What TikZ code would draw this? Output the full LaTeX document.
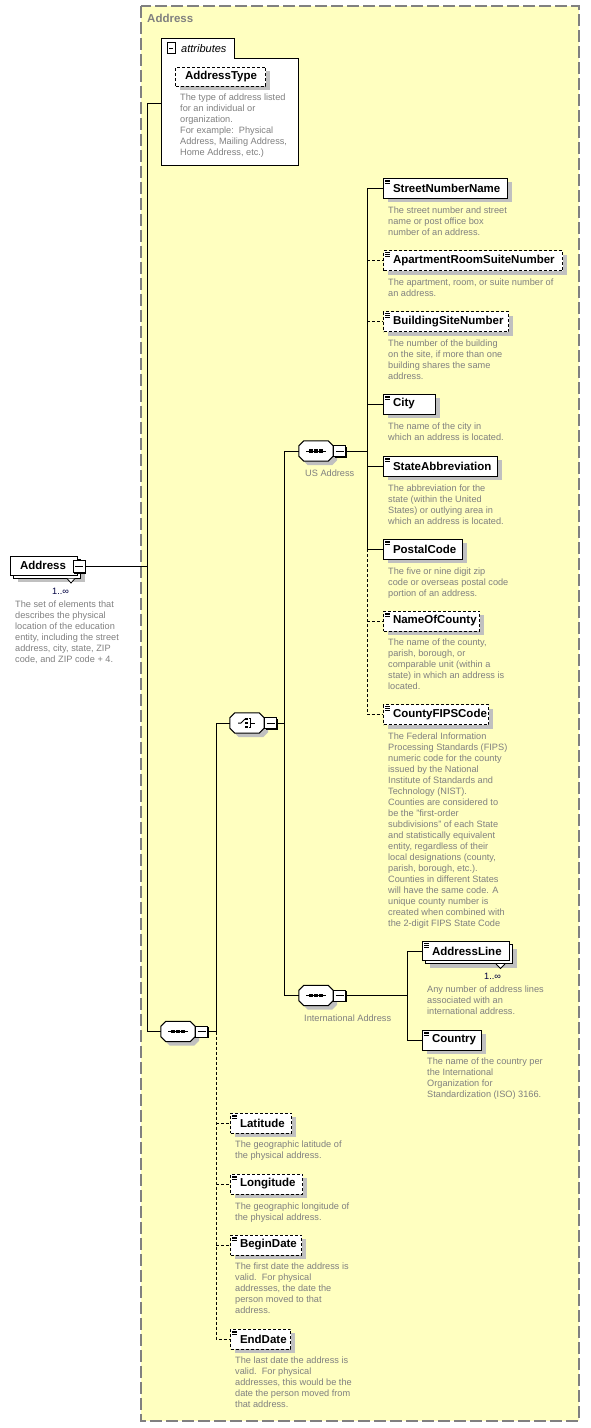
\documentclass[tikz,border=0pt]{standalone}
\usepackage{fontspec}
\setmainfont{Liberation Sans}
\usetikzlibrary{shadows}
\definecolor{yellowbg}{RGB}{255,255,192}
\definecolor{framegray}{RGB}{128,128,128}
\definecolor{shgray}{RGB}{192,192,192}
\definecolor{descgray}{RGB}{128,128,128}
\definecolor{multcol}{RGB}{0,0,64}
\newcommand\el[2]{\makebox[#1pt][l]{\hspace{9.5pt}#2}}
\newcommand\compshape[1]{%
  \path[fill=shgray] ([shift={(9,4)}]#1.north west) -- ([shift={(-1,4)}]#1.north east) -- ([shift={(4,9)}]#1.north east) -- ([shift={(4,-1)}]#1.south east) -- ([shift={(-1,4)}]#1.south east) -- ([shift={(9,4)}]#1.south west) -- ([shift={(4,-1)}]#1.south west) -- ([shift={(4,9)}]#1.north west) -- cycle;
  \draw[fill=white, line width=1pt] ([shift={(5,0)}]#1.north west) -- ([shift={(-5,0)}]#1.north east) -- ([shift={(0,5)}]#1.north east) -- ([shift={(0,-5)}]#1.south east) -- ([shift={(-5,0)}]#1.south east) -- ([shift={(5,0)}]#1.south west) -- ([shift={(0,-5)}]#1.south west) -- ([shift={(0,5)}]#1.north west) -- cycle;}
\newcommand\seqicon[1]{%
  \draw[line width=1pt] ([xshift=-10pt]#1.center) -- ([xshift=10pt]#1.center);
  \foreach \d in {-5,0,5} \fill ([xshift=\d pt]#1.center) +(-1.8,-1.8) rectangle +(1.8,1.8);}
\newcommand\choiceicon[1]{%
  \draw[line width=1pt] ([shift={(-9,0)}]#1.center) -- ([shift={(-6,0)}]#1.center) -- ([shift={(-2,-4)}]#1.center);
  \foreach \d in {-4,0,4} \fill ([shift={(-0.5,\d)}]#1.center) +(-1.4,-1.4) rectangle +(1.4,1.4);
  \draw[line width=1pt] ([shift={(1.5,-4.5)}]#1.center) -- ([shift={(3.5,-4.5)}]#1.center) -- ([shift={(3.5,4.5)}]#1.center) -- ([shift={(1.5,4.5)}]#1.center);
  \draw[line width=1pt] ([shift={(3.5,0)}]#1.center) -- ([shift={(8,0)}]#1.center);}
\tikzset{
  conn/.style={line width=1pt},
  dconn/.style={line width=1pt, dash pattern=on 3pt off 2pt},
  boxbase/.style={draw, line width=1pt, fill=white, minimum height=20pt, inner sep=0pt,
    font=\fontsize{11.5}{13}\selectfont\bfseries},
  shadowed/.style={general shadow={fill=shgray, shadow xshift=4pt, shadow yshift=-4pt}},
  icon/.style={path picture={\foreach \k in {2,3.8,5.6} \draw[line width=0.8pt, solid, black] ([shift={(1.5,\k)}]path picture bounding box.north west) -- ++(5,0);}},
  elem/.style={boxbase, shadowed, icon},
  optelem/.style={elem, dash pattern=on 3pt off 2pt},
  desc/.style={anchor=north west, inner sep=0pt, align=left, text=descgray,
    font=\fontsize{9.2}{11}\selectfont, execute at begin node=\strut},
  lbl/.style={anchor=base west, inner sep=0pt, text=descgray, font=\fontsize{9.2}{11}\selectfont},
  mult/.style={anchor=base west, inner sep=0pt, text=multcol, font=\fontsize{9.2}{11}\selectfont},
  comp/.style={minimum width=34pt, minimum height=20pt, inner sep=0pt},
  minusbox/.style={draw, line width=1pt, fill=white, minimum width=12pt, minimum height=11pt, inner sep=0pt,
    path picture={\draw[line width=1pt] ([xshift=2pt]path picture bounding box.west) -- ([xshift=-2pt]path picture bounding box.east);}},
  minus3d/.style={minusbox, general shadow={fill=black, shadow xshift=1pt, shadow yshift=-1pt}},
  chevron/.style={draw=black, line width=0.8pt, fill=white}
}
\begin{document}
\begin{tikzpicture}[x=1pt,y=-1pt]
\useasboundingbox (0,0) rectangle (590,1428);
% frame
\draw[framegray, line width=1.2pt, dash pattern=on 12pt off 4pt, fill=yellowbg] (141,6) rectangle (579,1421);
\node[anchor=base west, inner sep=0pt, text=framegray, font=\fontsize{11.5}{13}\selectfont\bfseries] (title) at (147,22) {Address};

% root element
\node[boxbase, shadowed, minimum height=19pt, anchor=west] (addrbk) at (13,568.5) {\makebox[67pt]{}};
\node[boxbase, minimum height=19pt, anchor=west] (addr) at (10,565.5) {\el{67}{Address}};
\node[minus3d, minimum height=12pt] (addrm) at (79,566.5) {};
\draw[chevron] ([shift={(-14,0)}]addrbk.south east) -- ([shift={(-10,4.5)}]addrbk.south east) -- ([shift={(-6,0)}]addrbk.south east);
\node[mult] (addrmult) at (52,594.5) {1..∞};
\node[desc] (addrdesc) at (15,600.3) {The set of elements that\\describes the physical\\location of the education\\entity, including the street\\address, city, state, ZIP\\code, and ZIP code + 4.};

% attributes
\draw[line width=1pt, fill=white] (161,165) -- (161,38) -- (234,38) -- (234,58) -- (298,58) -- (298,165) -- cycle;
\node[inner sep=0pt, minimum width=137pt, minimum height=107pt, anchor=north west] (attrbody) at (161,58) {};
\node[minusbox, minimum width=8pt, minimum height=11pt] (attrm) at (171,48) {};
\node[anchor=base west, inner sep=0pt, font=\fontsize{11}{13}\selectfont\itshape] (attrlbl) at (181,52) {attributes};
\node[boxbase, shadowed, dash pattern=on 3pt off 2pt, minimum height=19pt, anchor=west] (atype) at (175,76.5) {\el{90}{AddressType}};
\node[desc] (atypedesc) at (180,93.8) {The type of address listed\\for an individual or\\organization.\\For example:\ \ Physical\\Address, Mailing Address,\\Home Address, etc.)};

% main sequence
\node[comp] (seq) at (178,1031.5) {};
\compshape{seq}\seqicon{seq}
\node[minus3d, anchor=west] (seqm) at (seq.east) {};

% choice
\node[comp] (choice) at (247,723) {};
\compshape{choice}\choiceicon{choice}
\node[minus3d, anchor=west] (chm) at (choice.east) {};

% US address sequence
\node[comp] (usseq) at (316,451) {};
\compshape{usseq}\seqicon{usseq}
\node[minus3d, anchor=west] (usm) at (usseq.east) {};
\node[lbl] (uslbl) at (305,476.5) {US Address};

% International address sequence
\node[comp] (intseq) at (316,995.5) {};
\compshape{intseq}\seqicon{intseq}
\node[minus3d, anchor=west] (intm) at (intseq.east) {};
\node[lbl] (intlbl) at (304,1021.5) {International Address};

% US children
\node[elem, anchor=west] (snn) at (383,188) {\el{124}{StreetNumberName}};
\node[desc] at (388,206.3) {The street number and street\\name or post office box\\number of an address.};
\node[optelem, anchor=west] (apt) at (383,260.5) {\el{179}{ApartmentRoomSuiteNumber}};
\node[desc] at (388,278.3) {The apartment, room, or suite number of\\an address.};
\node[optelem, anchor=west] (bldg) at (383,321.5) {\el{125}{BuildingSiteNumber}};
\node[desc] at (388,339.3) {The number of the building\\on the site, if more than one\\building shares the same\\address.};
\node[elem, anchor=west] (city) at (383,404) {\el{52}{City}};
\node[desc] at (388,422.3) {The name of the city in\\which an address is located.};
\node[elem, anchor=west] (state) at (383,466) {\el{114}{StateAbbreviation}};
\node[desc] at (388,484.3) {The abbreviation for the\\state (within the United\\States) or outlying area in\\which an address is located.};
\node[elem, anchor=west] (pc) at (383,549) {\el{79}{PostalCode}};
\node[desc] at (388,567.3) {The five or nine digit zip\\code or overseas postal code\\portion of an address.};
\node[optelem, anchor=west] (noc) at (383,621) {\el{96}{NameOfCounty}};
\node[desc] at (388,638.3) {The name of the county,\\parish, borough, or\\comparable unit (within a\\state) in which an address is\\located.};
\node[optelem, anchor=west] (fips) at (383,714.5) {\el{105}{CountyFIPSCode}};
\node[desc] at (388,732.3) {The Federal Information\\Processing Standards (FIPS)\\numeric code for the county\\issued by the National\\Institute of Standards and\\Technology (NIST).\\Counties are considered to\\be the "first-order\\subdivisions" of each State\\and statistically equivalent\\entity, regardless of their\\local designations (county,\\parish, borough, etc.).\\Counties in different States\\will have the same code. A\\unique county number is\\created when combined with\\the 2-digit FIPS State Code};

% International children
\node[boxbase, shadowed, icon, minimum height=19pt, anchor=west] (albk) at (425,954) {\makebox[87pt]{}};
\node[boxbase, icon, minimum height=19pt, anchor=west] (al) at (422,951) {\el{87}{AddressLine}};
\draw[chevron] ([shift={(-17,0)}]albk.south east) -- ([shift={(-12.5,4.5)}]albk.south east) -- ([shift={(-8,0)}]albk.south east);
\node[mult] (almult) at (484,979) {1..∞};
\node[desc] at (427,985.3) {Any number of address lines\\associated with an\\international address.};
\node[elem, anchor=west] (country) at (422,1040) {\el{59}{Country}};
\node[desc] at (427,1057.3) {The name of the country per\\the International\\Organization for\\Standardization (ISO) 3166.};

% optional trailing elements
\node[optelem, anchor=west] (lat) at (230,1123) {\el{61}{Latitude}};
\node[desc] at (235,1140.3) {The geographic latitude of\\the physical address.};
\node[optelem, anchor=west] (lon) at (230,1184) {\el{72}{Longitude}};
\node[desc] at (235,1202.3) {The geographic longitude of\\the physical address.};
\node[optelem, anchor=west] (bd) at (230,1245) {\el{71}{BeginDate}};
\node[desc] at (235,1262.3) {The first date the address is\\valid.\ \ For physical\\addresses, the date the\\person moved to that\\address.};
\node[optelem, anchor=west] (ed) at (230,1339) {\el{60}{EndDate}};
\node[desc] at (235,1356.3) {The last date the address is\\valid.\ \ For physical\\addresses, this would be the\\date the person moved from\\that address.};

% connectors
\coordinate (spT) at (147,103);
\draw[conn] (addrm.east) -- (addrm.east -| spT);
\draw[conn] (spT) -- (spT -| attrbody.west);
\draw[conn] (spT) -- (spT |- seq.west) -- (seq.west);

\coordinate (j2) at (216,0);
\draw[conn] (seqm.east) -- (seqm.east -| j2) |- (choice.west);
\draw[dconn] (seqm.east -| j2) -- (j2 |- ed.west) -- (ed.west);
\draw[dconn] (j2 |- lat.west) -- (lat.west);
\draw[dconn] (j2 |- lon.west) -- (lon.west);
\draw[dconn] (j2 |- bd.west) -- (bd.west);

\coordinate (j3) at (284,0);
\draw[conn] (chm.east) -- (chm.east -| j3);
\draw[conn] (j3 |- usseq.west) -- (usseq.west);
\draw[conn] (j3 |- usseq.west) -- (j3 |- intseq.west) -- (intseq.west);

\coordinate (j4) at (367,0);
\draw[conn] (usm.east) -- (usm.east -| j4);
\draw[conn] (j4 |- snn.west) -- (snn.west);
\draw[conn] (j4 |- snn.west) -- (j4 |- pc.west) -- (pc.west);
\draw[conn] (j4 |- city.west) -- (city.west);
\draw[conn] (j4 |- state.west) -- (state.west);
\draw[dconn] (j4 |- apt.west) -- (apt.west);
\draw[dconn] (j4 |- bldg.west) -- (bldg.west);
\draw[dconn] (j4 |- pc.west) -- (j4 |- fips.west) -- (fips.west);
\draw[dconn] (j4 |- noc.west) -- (noc.west);

\coordinate (j5) at (407,0);
\draw[conn] (intm.east) -- (intm.east -| j5);
\draw[conn] (j5 |- al.west) -- (j5 |- country.west) -- (country.west);
\draw[conn] (j5 |- al.west) -- (al.west);
\end{tikzpicture}
\end{document}
